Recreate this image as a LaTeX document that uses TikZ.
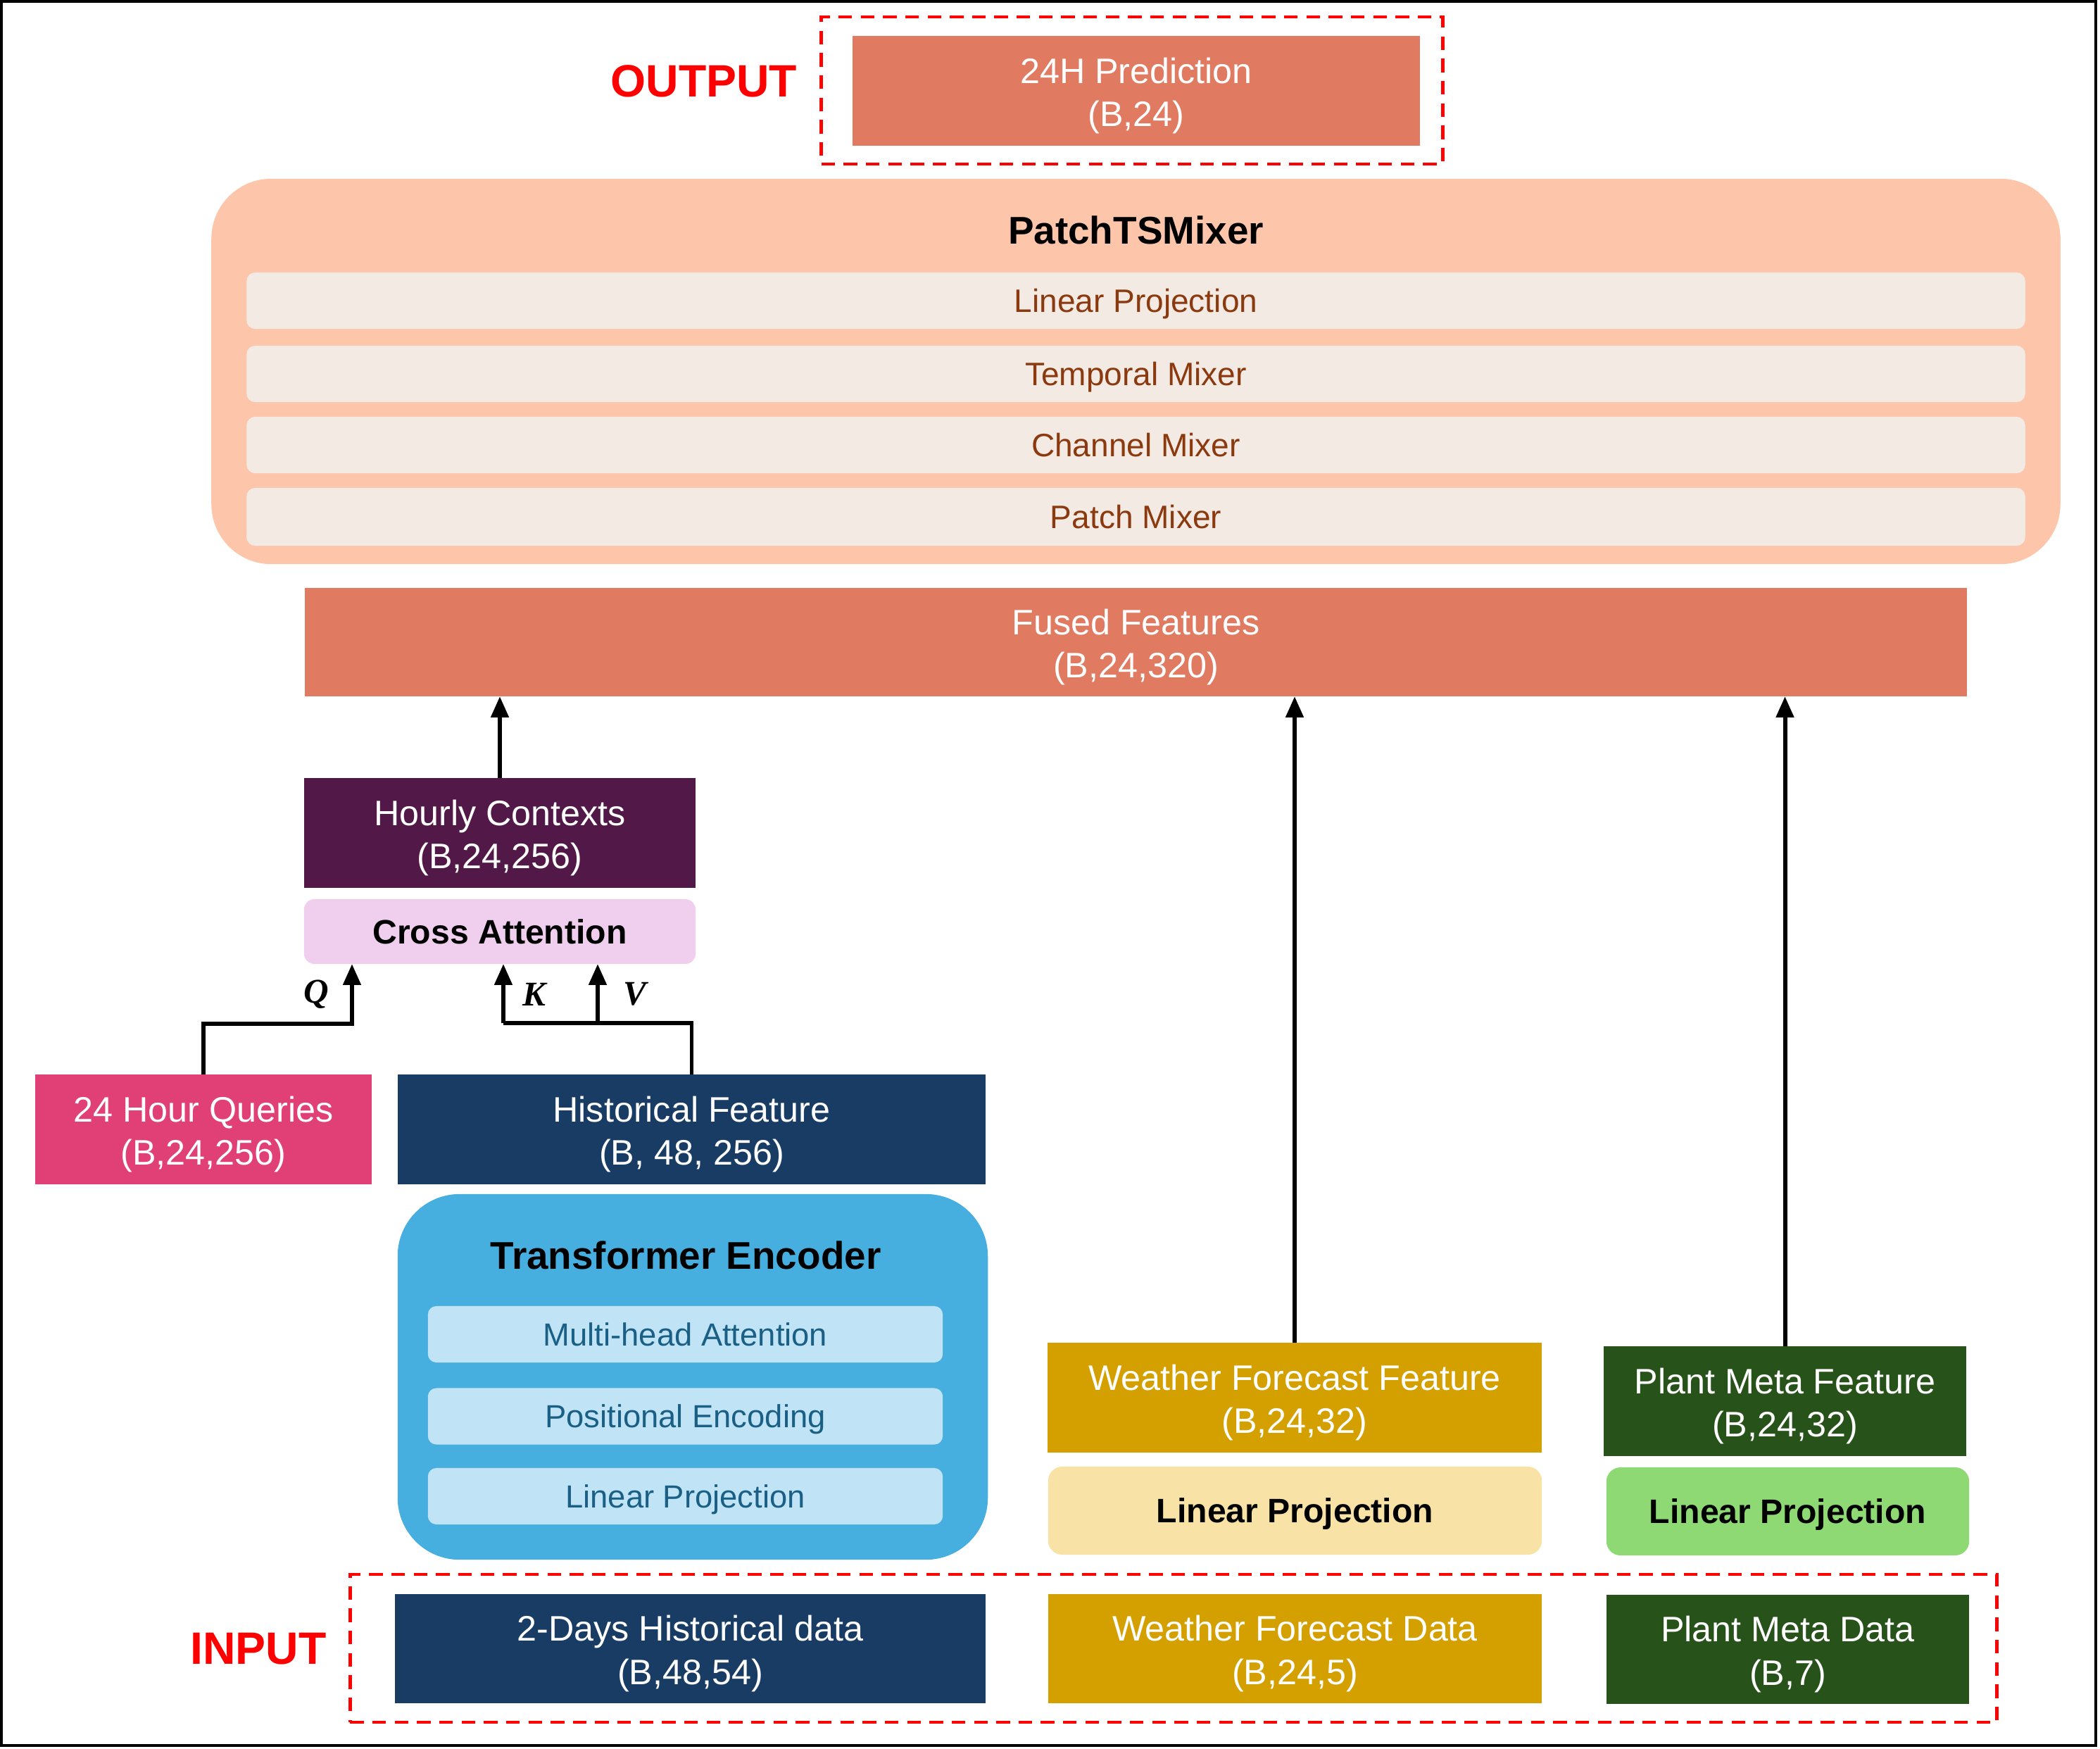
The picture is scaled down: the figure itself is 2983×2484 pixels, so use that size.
\documentclass[tikz,border=0pt]{standalone}
\usepackage{fontspec}
\setmainfont{Liberation Sans}
\newfontfamily\qkvfont{Liberation Serif}
\usetikzlibrary{arrows.meta}
\definecolor{outc}{HTML}{E07B62}
\definecolor{patchc}{HTML}{FDC5AA}
\definecolor{barc}{HTML}{F3EAE3}
\definecolor{bartxt}{HTML}{8B3A10}
\definecolor{hourc}{HTML}{521848}
\definecolor{crossc}{HTML}{F0CEEE}
\definecolor{queryc}{HTML}{E04076}
\definecolor{histc}{HTML}{183C63}
\definecolor{tec}{HTML}{47AFE0}
\definecolor{tebar}{HTML}{C0E4F5}
\definecolor{tetxt}{HTML}{1A5F85}
\definecolor{weac}{HTML}{D4A000}
\definecolor{wealin}{HTML}{F8E2A5}
\definecolor{plantc}{HTML}{27521A}
\definecolor{plantlin}{HTML}{8FD975}
\tikzset{
  box/.style={inner sep=0pt, outer sep=0pt},
  wtxt/.style={inner sep=0pt, align=center, text=white, yshift=-2pt, font=\fontsize{14.3}{17.4}\selectfont},
  barbox/.style={inner sep=0pt, outer sep=0pt, align=center, rounded corners=0.12cm, text height=9.4pt, text depth=0pt, font=\fontsize{13.1}{16}\selectfont},
  tebarbox/.style={inner sep=0pt, outer sep=0pt, align=center, rounded corners=0.12cm, text height=9.2pt, text depth=0pt, font=\fontsize{12.9}{16}\selectfont},
  boldbox/.style={inner sep=0pt, outer sep=0pt, align=center, text=black, text height=9.8pt, text depth=0pt, font=\fontsize{13.7}{17.4}\selectfont\bfseries},
  dashrect/.style={draw=red, line width=1.3pt, dash pattern=on 5.5pt off 3.5pt, inner sep=0pt, outer sep=0pt},
  redlabel/.style={text=red, font=\fontsize{18.3}{22}\selectfont\bfseries},
  arr/.style={line width=1.7pt, -{Triangle[length=8.5pt,width=7pt]}},
  plainline/.style={line width=1.7pt},
  qkv/.style={font=\fontsize{14}{16}\selectfont\qkvfont\bfseries\itshape}
}
\begin{document}
\begin{tikzpicture}[x=0.01cm,y=-0.01cm]
\useasboundingbox (0,0) rectangle (2983,2484);
\draw[line width=1.3pt] (2,2) rectangle (2977,2479);

% OUTPUT
\node[dashrect, minimum width=8.82cm, minimum height=2.09cm] (outdash) at (1608,128.5) {};
\node[box, fill=outc, minimum width=8.06cm, minimum height=1.56cm] (out) at (1614,129) {};
\node[wtxt] (outtxt) at (out) {24H Prediction\\(B,24)};
\node[redlabel] (outlabel) at (1000,115) {OUTPUT};

% PatchTSMixer
\node[box, fill=patchc, rounded corners=0.85cm, minimum width=26.25cm, minimum height=5.47cm] (patch) at (1613.5,527.5) {};
\node[inner sep=0pt, font=\fontsize{15.6}{19}\selectfont\bfseries] (patchtitle) at (1613.5,327) {PatchTSMixer};
\node[barbox, fill=barc, text=bartxt, minimum width=25.25cm, minimum height=0.80cm] (pb1) at (1613.5,427) {Linear Projection};
\node[barbox, fill=barc, text=bartxt, minimum width=25.25cm, minimum height=0.80cm] (pb2) at (1613.5,531) {Temporal Mixer};
\node[barbox, fill=barc, text=bartxt, minimum width=25.25cm, minimum height=0.80cm] (pb3) at (1613.5,632) {Channel Mixer};
\node[barbox, fill=barc, text=bartxt, minimum width=25.25cm, minimum height=0.82cm] (pb4) at (1613.5,734) {Patch Mixer};

% Fused
\node[box, fill=outc, minimum width=23.59cm, minimum height=1.54cm] (fused) at (1613.5,912) {};
\node[wtxt] (fusedtxt) at (fused) {Fused Features\\(B,24,320)};

% Hourly / Cross
\node[box, fill=hourc, minimum width=5.56cm, minimum height=1.56cm] (hourly) at (710,1183) {};
\node[wtxt] (hourlytxt) at (hourly) {Hourly Contexts\\(B,24,256)};
\node[boldbox, fill=crossc, rounded corners=0.15cm, minimum width=5.56cm, minimum height=0.92cm] (cross) at (710,1323) {Cross Attention};

% Queries / Historical
\node[box, fill=queryc, minimum width=4.78cm, minimum height=1.56cm] (queries) at (289,1604) {};
\node[wtxt] (queriestxt) at (queries) {24 Hour Queries\\(B,24,256)};
\node[box, fill=histc, minimum width=8.35cm, minimum height=1.56cm] (hist) at (982.5,1604) {};
\node[wtxt] (histtxt) at (hist) {Historical Feature\\(B, 48, 256)};

% Transformer Encoder
\node[box, fill=tec, rounded corners=0.88cm, minimum width=8.38cm, minimum height=5.19cm] (te) at (984,1955.5) {};
\node[inner sep=0pt, font=\fontsize{15.6}{19}\selectfont\bfseries] (tetitle) at (974,1783) {Transformer Encoder};
\node[tebarbox, fill=tebar, text=tetxt, minimum width=7.31cm, minimum height=0.80cm] (tb1) at (973.5,1895) {Multi-head Attention};
\node[tebarbox, fill=tebar, text=tetxt, minimum width=7.31cm, minimum height=0.80cm] (tb2) at (973.5,2011.5) {Positional Encoding};
\node[tebarbox, fill=tebar, text=tetxt, minimum width=7.31cm, minimum height=0.80cm] (tb3) at (973.5,2125) {Linear Projection};

% Weather / Plant features
\node[box, fill=weac, minimum width=7.02cm, minimum height=1.56cm] (weaF) at (1839,1985) {};
\node[wtxt] (weaFtxt) at (weaF) {Weather Forecast Feature\\(B,24,32)};
\node[box, fill=plantc, minimum width=5.15cm, minimum height=1.56cm] (plantF) at (2535.5,1990) {};
\node[wtxt] (plantFtxt) at (plantF) {Plant Meta Feature\\(B,24,32)};
\node[boldbox, fill=wealin, rounded corners=0.2cm, minimum width=7.01cm, minimum height=1.25cm] (weaLin) at (1839.5,2145.5) {Linear Projection};
\node[boldbox, fill=plantlin, rounded corners=0.2cm, minimum width=5.15cm, minimum height=1.25cm] (plantLin) at (2539.5,2146.5) {Linear Projection};

% INPUT
\node[dashrect, minimum width=23.38cm, minimum height=2.10cm] (indash) at (1667,2341) {};
\node[redlabel] (inlabel) at (367,2342) {INPUT};
\node[box, fill=histc, minimum width=8.39cm, minimum height=1.55cm] (histData) at (980.5,2341.5) {};
\node[wtxt] (histDatatxt) at (histData) {2-Days Historical data\\(B,48,54)};
\node[box, fill=weac, minimum width=7.01cm, minimum height=1.55cm] (weaData) at (1839.5,2341.5) {};
\node[wtxt] (weaDatatxt) at (weaData) {Weather Forecast Data\\(B,24,5)};
\node[box, fill=plantc, minimum width=5.15cm, minimum height=1.55cm] (plantData) at (2539.5,2342.5) {};
\node[wtxt] (plantDatatxt) at (plantData) {Plant Meta Data\\(B,7)};

% Connectors
\draw[arr] (hourly.north) -- (hourly.north |- fused.south);
\draw[arr] (weaF.north) -- (weaF.north |- fused.south);
\draw[arr] (plantF.north) -- (plantF.north |- fused.south);

\coordinate (qx) at (500,1454);
\coordinate (kx) at (715,1453);
\coordinate (vx) at (849,1453);
\draw[arr] (queries.north) |- (qx) -- (qx |- cross.south);
\draw[plainline] (hist.north) |- (kx);
\draw[arr] (kx) -- (kx |- cross.south);
\draw[arr] (vx) -- (vx |- cross.south);

\node[qkv] (qlab) at (449,1412) {Q};
\node[qkv] (klab) at (759,1412) {K};
\node[qkv] (vlab) at (902,1412) {V};
\end{tikzpicture}
\end{document}
